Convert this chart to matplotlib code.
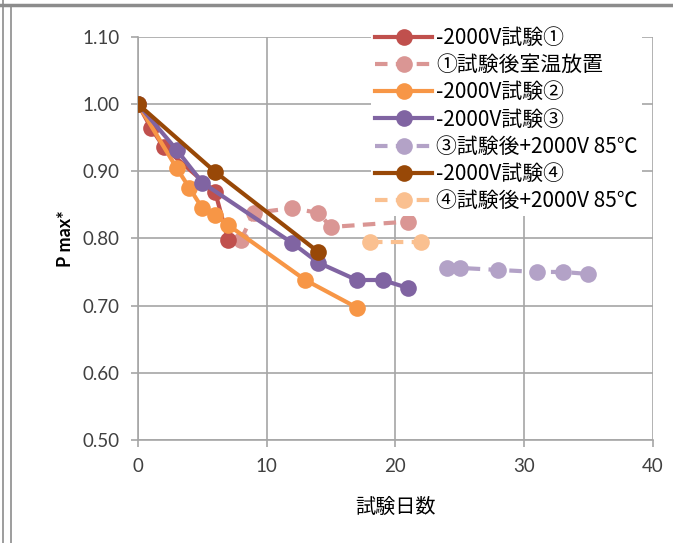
import matplotlib
matplotlib.use('Agg')
import matplotlib.pyplot as plt
from matplotlib.lines import Line2D

plt.rcParams['font.family'] = ['Lato', 'Noto Sans CJK JP', 'DejaVu Sans']

# series: days and relative Pmax*
days_1 = [0, 1, 2, 6, 7]
pmax_1 = [1.000, 0.965, 0.936, 0.869, 0.798]
days_1r = [8, 9, 12, 14, 15, 21]
pmax_1r = [0.798, 0.838, 0.845, 0.838, 0.817, 0.825]
days_2 = [0, 3, 4, 5, 6, 7, 13, 17]
pmax_2 = [1.000, 0.905, 0.875, 0.845, 0.835, 0.820, 0.738, 0.697]
days_3 = [0, 3, 5, 12, 14, 17, 19, 21]
pmax_3 = [1.000, 0.932, 0.883, 0.793, 0.764, 0.738, 0.738, 0.726]
days_3h = [24, 25, 28, 31, 33, 35]
pmax_3h = [0.756, 0.756, 0.753, 0.750, 0.750, 0.747]
days_4 = [0, 6, 14]
pmax_4 = [1.000, 0.899, 0.780]
days_4h = [18, 22]
pmax_4h = [0.795, 0.795]

labels = ['-2000V試験①', '①試験後室温放置', '-2000V試験②', '-2000V試験③',
          '③試験後+2000V 85℃', '-2000V試験④', '④試験後+2000V 85℃']
colors = ['#C0504D', '#DA9694', '#F79646', '#8064A2', '#B3A2C7', '#984807', '#FAC090']
styles = ['-', '--', '-', '-', '--', '-', '--']
xs = [days_1, days_1r, days_2, days_3, days_3h, days_4, days_4h]
ys = [pmax_1, pmax_1r, pmax_2, pmax_3, pmax_3h, pmax_4, pmax_4h]

fig = plt.figure(figsize=(6.73, 5.43), dpi=100)
ax = fig.add_axes([0.205, 0.190, 0.765, 0.742])

# drawing order so that the ④ series sits on top near the origin
order = [1, 4, 6, 0, 2, 3, 5]
for i in order:
    ax.plot(xs[i], ys[i], linestyle=styles[i], color=colors[i], lw=3.0,
            marker='o', markersize=12, markeredgewidth=0, zorder=3,
            dashes=(3, 2) if styles[i] == '--' else (None, None))

ax.set_xlim(0, 40)
ax.set_ylim(0.5, 1.1)
ax.set_xticks([0, 10, 20, 30, 40])
ax.set_yticks([0.5, 0.6, 0.7, 0.8, 0.9, 1.0, 1.1])
ax.set_yticklabels([f'{v:.2f}' for v in ax.get_yticks()])
ax.grid(True, color='#A6A6A6', lw=1.2, zorder=0)
ax.set_axisbelow(True)
for s in ['top', 'right']:
    ax.spines[s].set_visible(False)
for s in ['left', 'bottom']:
    ax.spines[s].set_color('#A6A6A6')
    ax.spines[s].set_linewidth(1.2)
ax.tick_params(colors='#A6A6A6', labelcolor='#404040', labelsize=13.5,
               length=5, width=1.2)
ax.tick_params(axis='x', pad=8)
ax.tick_params(axis='y', pad=8)

ax.set_ylabel('P max*', fontsize=13, fontweight='bold', labelpad=6)
ax.set_xlabel('試験日数', fontsize=14.5, labelpad=16)

handles = [Line2D([], [], color=colors[i], lw=3.0, marker='o', markersize=12,
                  markeredgewidth=0, linestyle=styles[i],
                  dashes=(3, 2) if styles[i] == '--' else (None, None))
           for i in range(7)]
leg = fig.legend(handles, labels, loc='upper left', bbox_to_anchor=(0.551, 0.958),
                 frameon=True, handlelength=2.75, handletextpad=0.2,
                 labelspacing=0.25, borderaxespad=0, borderpad=0.2,
                 prop={'family': ['Noto Sans CJK JP'], 'size': 15})
leg.get_frame().set_facecolor('white')
leg.get_frame().set_edgecolor('none')
leg.get_frame().set_alpha(1)
leg.set_zorder(5)

# surrounding border lines
fig.add_artist(Line2D([0, 1], [1 - 5 / 543, 1 - 5 / 543], color='#8C8C8C', lw=2.5))
fig.add_artist(Line2D([3 / 673, 3 / 673], [0, 1], color='#8C8C8C', lw=1.2))
fig.add_artist(Line2D([11 / 673, 11 / 673], [0, 1 - 5 / 543], color='#8C8C8C', lw=1.2))

fig.savefig('out.png', dpi=100)
